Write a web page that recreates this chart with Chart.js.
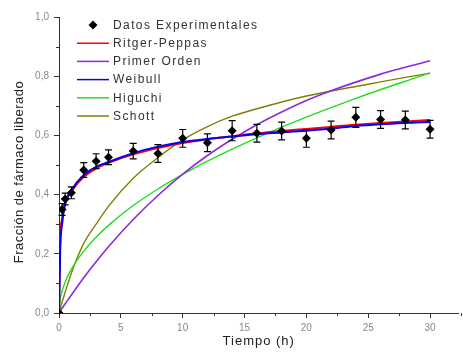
<!DOCTYPE html>
<html>
<head>
<meta charset="utf-8">
<script src="https://cdn.jsdelivr.net/npm/chart.js@4.4.0/dist/chart.umd.min.js"></script>
<style>
  html, body { margin: 0; padding: 0; background: #fff; }
  #box { width: 463px; height: 356px; }
</style>
</head>
<body>
<div id="box"><canvas id="grafico"></canvas></div>
<script>
// Dati sperimentali
const tempi = [0, 0.25, 0.5, 1, 2, 3, 4, 6, 8, 10, 12, 14, 16, 18, 20, 22, 24, 26, 28, 30];
const frazione = [0, 0.35, 0.385, 0.406, 0.483, 0.513, 0.526, 0.547, 0.539, 0.59, 0.575, 0.616, 0.607, 0.615, 0.59, 0.618, 0.661, 0.654, 0.652, 0.621];
const errori = [0, 0.02, 0.02, 0.02, 0.025, 0.025, 0.025, 0.026, 0.03, 0.03, 0.03, 0.034, 0.03, 0.03, 0.03, 0.03, 0.034, 0.03, 0.03, 0.03];

// Curve dei modelli
const tempiModello = [0, 0.1, 0.25, 0.5, 1, 2, 3, 4, 6, 8, 10, 12, 14, 16, 18, 20, 22, 24, 26, 28, 30];
const ritgerPeppas = [0, 0.25, 0.32, 0.37, 0.41, 0.46, 0.488, 0.507, 0.536, 0.557, 0.574, 0.587, 0.597, 0.607, 0.615, 0.622, 0.629, 0.636, 0.642, 0.647, 0.652];
const primerOrden = [0, 0.006, 0.016, 0.031, 0.061, 0.119, 0.173, 0.224, 0.316, 0.397, 0.469, 0.532, 0.587, 0.636, 0.679, 0.718, 0.751, 0.78, 0.807, 0.83, 0.852];
const weibull = [0, 0.22, 0.3, 0.37, 0.415, 0.466, 0.494, 0.51, 0.54, 0.562, 0.578, 0.588, 0.596, 0.604, 0.61, 0.616, 0.623, 0.632, 0.638, 0.642, 0.645];
const higuchi = [0, 0.047, 0.074, 0.105, 0.148, 0.209, 0.256, 0.296, 0.363, 0.419, 0.468, 0.513, 0.554, 0.592, 0.628, 0.662, 0.694, 0.725, 0.755, 0.783, 0.811];
const schott = [0, 0.015, 0.037, 0.07, 0.135, 0.235, 0.3, 0.36, 0.455, 0.525, 0.585, 0.63, 0.665, 0.69, 0.713, 0.733, 0.75, 0.765, 0.781, 0.796, 0.81];

const tickX = [0, 5, 10, 15, 20, 25, 30];
const tickXMinori = [2.5, 7.5, 12.5, 17.5, 22.5, 27.5, 32.5];
const tickY = [0, 0.2, 0.4, 0.6, 0.8, 1.0];
const tickYMinori = [0.1, 0.3, 0.5, 0.7, 0.9];

const FONT = "'Liberation Sans', Arial, sans-serif";

function punti(xs, ys) {
    return xs.map((x, i) => ({ x: x, y: ys[i] }));
}

function curva(label, ys, colore, spessore, ordine) {
    return {
        label: label,
        data: punti(tempiModello, ys),
        showLine: true,
        borderColor: colore,
        backgroundColor: colore,
        borderWidth: spessore,
        pointRadius: 0,
        cubicInterpolationMode: "monotone",
        order: ordine
    };
}

// Barre d'errore e tacche minori
const pluginExtra = {
    id: "extra",
    beforeDatasetDraw(chart, args) {
        if (args.index !== 0) return;
        const ctx = chart.ctx;
        const sy = chart.scales.y;
        const meta = chart.getDatasetMeta(0);
        ctx.save();
        ctx.strokeStyle = "#000";
        ctx.lineWidth = 1.2;
        meta.data.forEach((p, i) => {
            if (!errori[i]) return;
            const y1 = sy.getPixelForValue(frazione[i] + errori[i]);
            const y2 = sy.getPixelForValue(frazione[i] - errori[i]);
            ctx.beginPath();
            ctx.moveTo(p.x, y1); ctx.lineTo(p.x, y2);
            ctx.moveTo(p.x - 3.5, y1); ctx.lineTo(p.x + 3.5, y1);
            ctx.moveTo(p.x - 3.5, y2); ctx.lineTo(p.x + 3.5, y2);
            ctx.stroke();
        });
        ctx.restore();
    },
    afterDraw(chart) {
        const ctx = chart.ctx;
        const sx = chart.scales.x;
        const sy = chart.scales.y;
        const area = chart.chartArea;
        ctx.save();
        ctx.strokeStyle = "#333";
        ctx.lineWidth = 1;
        ctx.beginPath();
        tickXMinori.forEach(v => {
            const x = Math.round(sx.getPixelForValue(v)) + 0.5;
            if (x > chart.width) return;
            ctx.moveTo(x, area.bottom); ctx.lineTo(x, area.bottom + 3);
        });
        tickYMinori.forEach(v => {
            const y = Math.round(sy.getPixelForValue(v)) + 0.5;
            ctx.moveTo(area.left, y); ctx.lineTo(area.left - 3, y);
        });
        ctx.stroke();

        // Titoli degli assi
        ctx.fillStyle = "#222";
        ctx.font = "13px " + FONT;
        ctx.letterSpacing = "1px";
        ctx.textAlign = "center";
        ctx.textBaseline = "middle";
        ctx.fillText("Tiempo (h)", (area.left + area.right) / 2, 341);
        ctx.save();
        ctx.translate(19, 172);
        ctx.rotate(-Math.PI / 2);
        ctx.letterSpacing = "0.5px";
        ctx.fillText("Fracción de fármaco liberado", 0, 0);
        ctx.restore();

        // Legenda
        ctx.font = "12px " + FONT;
        ctx.letterSpacing = "1.4px";
        ctx.textAlign = "left";
        ctx.fillStyle = "#333";
        const x0 = area.left + 18;
        const y0 = area.top + 8;
        const passo = 18.2;
        chart.data.datasets.forEach((ds, i) => {
            const y = y0 + i * passo;
            if (i === 0) {
                ctx.save();
                ctx.fillStyle = "#000";
                ctx.beginPath();
                const cx = x0 + 16, r = 4.5;
                ctx.moveTo(cx, y - r); ctx.lineTo(cx + r, y); ctx.lineTo(cx, y + r); ctx.lineTo(cx - r, y);
                ctx.closePath();
                ctx.fill();
                ctx.restore();
            } else {
                ctx.save();
                ctx.strokeStyle = ds.borderColor;
                ctx.lineWidth = 1.5;
                ctx.beginPath();
                ctx.moveTo(x0, y); ctx.lineTo(x0 + 32, y);
                ctx.stroke();
                ctx.restore();
            }
            ctx.fillText(ds.label, x0 + 36, y + 0.5);
        });
        ctx.restore();
    }
};

new Chart(document.getElementById("grafico"), {
    type: "scatter",
    data: {
        datasets: [
            {
                label: "Datos Experimentales",
                data: punti(tempi, frazione),
                pointStyle: "rectRot",
                pointRadius: 4.5,
                pointBackgroundColor: "#000",
                pointBorderColor: "#000",
                pointBorderWidth: 0,
                showLine: false,
                order: 0
            },
            curva("Ritger-Peppas", ritgerPeppas, "#ff0000", 2, 2),
            curva("Primer Orden", primerOrden, "#8a2be2", 1.6, 3),
            curva("Weibull", weibull, "#0000ff", 2, 1),
            curva("Higuchi", higuchi, "#22dd22", 1.4, 4),
            curva("Schott", schott, "#808000", 1.4, 5)
        ]
    },
    options: {
        responsive: true,
        maintainAspectRatio: false,
        animation: false,
        layout: { padding: { left: 0, right: 2, top: 17, bottom: 0 } },
        plugins: {
            legend: { display: false },
            tooltip: { enabled: false }
        },
        scales: {
            x: {
                type: "linear",
                min: 0,
                max: 32.3,
                afterBuildTicks: s => { s.ticks = tickX.map(v => ({ value: v })); },
                afterFit: s => { s.height = 43; },
                grid: { drawOnChartArea: false, tickLength: 5, color: "#333", tickColor: "#333" },
                border: { display: true, color: "#333", width: 1 },
                ticks: {
                    color: "#888",
                    padding: 4,
                    maxRotation: 0,
                    font: { family: FONT, size: 10 },
                    callback: v => String(v)
                }
            },
            y: {
                type: "linear",
                min: 0,
                max: 1,
                afterBuildTicks: s => { s.ticks = tickY.map(v => ({ value: v })); },
                afterFit: s => { s.width = 59; },
                grid: { drawOnChartArea: false, tickLength: 5, color: "#333", tickColor: "#333" },
                border: { display: true, color: "#333", width: 1 },
                ticks: {
                    color: "#888",
                    padding: 5,
                    font: { family: FONT, size: 10 },
                    callback: v => v.toFixed(1).replace(".", ",")
                }
            }
        }
    },
    plugins: [pluginExtra]
});
</script>
</body>
</html>
